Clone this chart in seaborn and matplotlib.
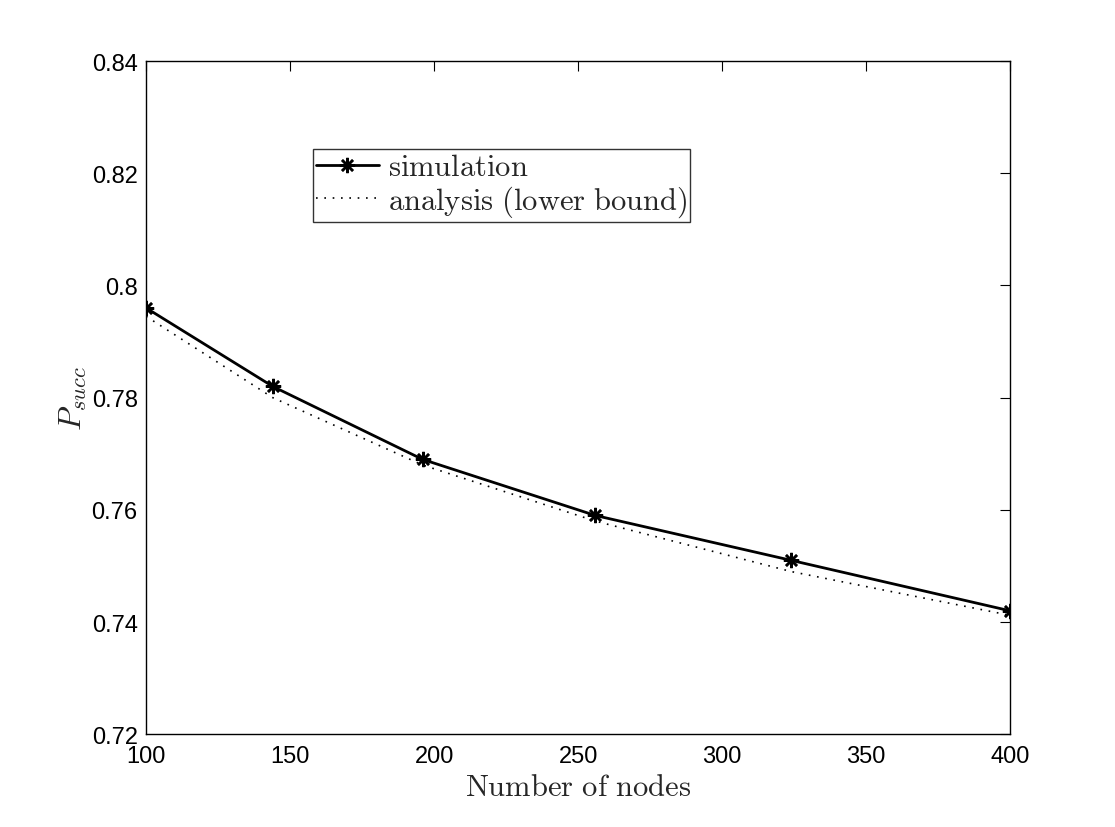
import pandas as pd
import matplotlib
matplotlib.use("Agg")
import matplotlib.pyplot as plt
from matplotlib.ticker import FuncFormatter
import seaborn as sns

# data
nodes = [100, 144, 196, 256, 324, 400]
sim_vals = [0.796, 0.782, 0.769, 0.759, 0.751, 0.742]
ana_vals = [0.7945, 0.7800, 0.7680, 0.7580, 0.7490, 0.7412]

x_ticks = [100, 150, 200, 250, 300, 350, 400]
y_ticks = [0.72, 0.74, 0.76, 0.78, 0.80, 0.82, 0.84]

df = pd.DataFrame({"nodes": nodes, "sim": sim_vals, "ana": ana_vals})

sns.set_theme(style="white")
plt.rcParams["font.family"] = ["Liberation Sans", "DejaVu Sans"]
plt.rcParams["mathtext.fontset"] = "cm"
plt.rcParams["xtick.direction"] = "in"
plt.rcParams["ytick.direction"] = "in"

fig = plt.figure(figsize=(11.15, 8.28), dpi=100)
ax = fig.add_axes([0.131, 0.112, 0.775, 0.813])

sns.lineplot(data=df, x="nodes", y="sim", ax=ax, color="black", linewidth=2,
             marker=(8, 2, 0), markersize=11, markeredgewidth=1.8,
             markeredgecolor="black", label=r"$\mathrm{simulation}$")
sns.lineplot(data=df, x="nodes", y="ana", ax=ax, color="black", linewidth=1.2,
             linestyle=(0, (1, 4)), label=r"$\mathrm{analysis\ (lower\ bound)}$")

ax.set_xlim(100, 400)
ax.set_ylim(0.72, 0.84)
ax.set_xticks(x_ticks)
ax.set_yticks(y_ticks)
ax.yaxis.set_major_formatter(FuncFormatter(lambda v, p: f"{v:g}"))
ax.tick_params(axis="both", labelsize=17, length=7, width=0.8, colors="black",
               top=True, right=True, pad=6)
ax.tick_params(axis="x", pad=8)
for s in ax.spines.values():
    s.set_visible(True)
    s.set_color("black")
    s.set_linewidth(1.0)

ax.set_xlabel(r"$\mathrm{Number\ of\ nodes}$", fontsize=22, labelpad=3)
ax.set_ylabel(r"$P_{succ}$", fontsize=23, labelpad=2)

leg = ax.legend(loc="upper left", bbox_to_anchor=(0.193, 0.869), fontsize=22,
                frameon=True, fancybox=False, edgecolor="black",
                handlelength=2.05, borderpad=0.1, labelspacing=0.05,
                handletextpad=0.3, borderaxespad=0)
leg.get_frame().set_linewidth(1.0)

fig.savefig("out.png", dpi=100, facecolor="white")
